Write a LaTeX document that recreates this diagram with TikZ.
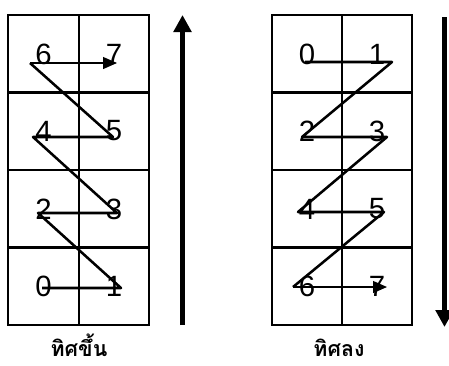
\documentclass[tikz,border=0pt]{standalone}
\usepackage{fontspec}
\setmainfont{Liberation Sans}
\newfontfamily\thaifont[Script=Thai]{Loma}
\usetikzlibrary{arrows.meta, positioning}

\begin{document}
\begin{tikzpicture}[
    x=0.75pt, y=-0.75pt,
    >=Triangle,
    cell/.style={draw, line width=1.8pt},
    digit/.style={font=\fontsize{22}{24}\selectfont, inner sep=0pt},
    zig/.style={line width=1.9pt, line join=round},
    last/.style={line width=0.9pt, -{Triangle[length=10.5pt, width=9pt]}},
    bigarrow/.style={line width=4pt, -{Triangle[length=12.75pt, width=13pt]}},
    caption/.style={font=\thaifont\bfseries\fontsize{16}{18}\selectfont, inner sep=0pt}
  ]
    \useasboundingbox (0,0) rectangle (449,365);

    % left grid (upward)
    \draw[cell] (8,15) rectangle (149,325);
    \draw[cell] (79,15) -- (79,325);
    \draw[cell] (8,92.5) -- (149,92.5);
    \draw[cell] (8,170) -- (149,170);
    \draw[cell] (8,247.5) -- (149,247.5);

    % right grid (downward)
    \draw[cell] (272,15) rectangle (412,325);
    \draw[cell] (342,15) -- (342,325);
    \draw[cell] (272,92.5) -- (412,92.5);
    \draw[cell] (272,170) -- (412,170);
    \draw[cell] (272,247.5) -- (412,247.5);

    % digits, left grid
    \node[digit] (up0) at (43.5,286) {0};
    \node[digit] (up1) at (114,286)  {1};
    \node[digit] (up2) at (43.5,209) {2};
    \node[digit] (up3) at (114,209)  {3};
    \node[digit] (up4) at (43.5,131) {4};
    \node[digit] (up5) at (114,131)  {5};
    \node[digit] (up6) at (43.5,54)  {6};
    \node[digit] (up7) at (114,54)   {7};

    % digits, right grid
    \node[digit] (dn0) at (307,54)  {0};
    \node[digit] (dn1) at (377,54)  {1};
    \node[digit] (dn2) at (307,131) {2};
    \node[digit] (dn3) at (377,131) {3};
    \node[digit] (dn4) at (307,209) {4};
    \node[digit] (dn5) at (377,209) {5};
    \node[digit] (dn6) at (307,286) {6};
    \node[digit] (dn7) at (377,286) {7};

    % zigzag points
    \coordinate (a0) at (42,288);  \coordinate (a1) at (121,288);
    \coordinate (a2) at (38,213);  \coordinate (a3) at (117,213);
    \coordinate (a4) at (33,137);  \coordinate (a5) at (113,137);
    \coordinate (a6) at (30,63);   \coordinate (a7) at (117,63);
    \coordinate (b0) at (305,62);  \coordinate (b1) at (392,62);
    \coordinate (b2) at (302,137); \coordinate (b3) at (387,137);
    \coordinate (b4) at (298,212); \coordinate (b5) at (384,212);
    \coordinate (b6) at (293,287); \coordinate (b7) at (387,287);

    \draw[zig] (a0) -- (a1) -- (a2) -- (a3) -- (a4) -- (a5) -- (a6);
    \draw[last] (a6) -- (a7);
    \draw[zig] (b0) -- (b1) -- (b2) -- (b3) -- (b4) -- (b5) -- (b6);
    \draw[last] (b6) -- (b7);

    % direction arrows
    \coordinate (upbot) at (182.5,325);
    \coordinate (uptop) at (182.5,15);
    \coordinate (dntop) at (444.5,17);
    \coordinate (dnbot) at (444.5,327);
    \draw[bigarrow] (upbot) -- (uptop);
    \draw[bigarrow] (dntop) -- (dnbot);

    % captions
    \node[caption, anchor=base] (upcap) at (79,356) {ทิศขึ้น};
    \node[caption, anchor=base] (dncap) at (339,356) {ทิศลง};
\end{tikzpicture}
\end{document}
